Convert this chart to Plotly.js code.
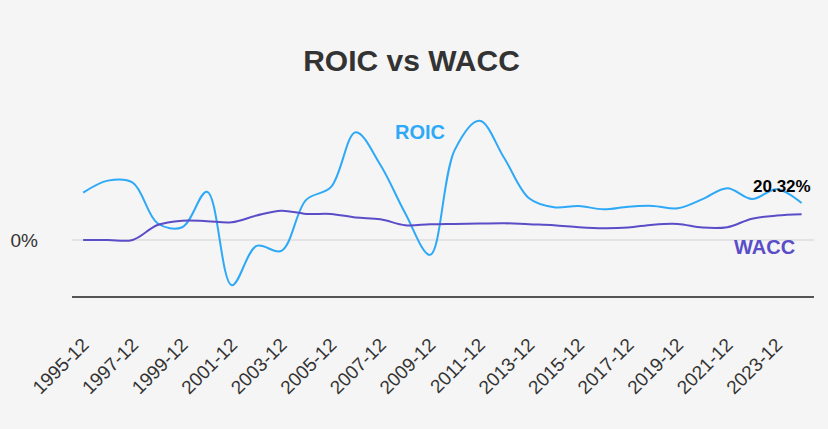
<!DOCTYPE html>
<html>
<head>
<meta charset="utf-8">
<script src="https://cdn.plot.ly/plotly-3.0.1.min.js"></script>
<style>
  html, body { margin: 0; padding: 0; background: #f5f5f5; }
  #chart { width: 828px; height: 429px; }
</style>
</head>
<body>
<div id="chart"></div>
<script>
// period labels, one per fiscal year end
const periods = [
  '1995-12','1996-12','1997-12','1998-12','1999-12','2000-12','2001-12','2002-12',
  '2003-12','2004-12','2005-12','2006-12','2007-12','2008-12','2009-12','2010-12',
  '2011-12','2012-12','2013-12','2014-12','2015-12','2016-12','2017-12','2018-12',
  '2019-12','2020-12','2021-12','2022-12','2023-12','2024-12'
];

// ROIC, %
const roic = [
  26.0, 32.6, 31.5, 9.2, 7.0, 26.5, -24.9, -3.3, -6.0, 22.0,
  29.0, 59.2, 41.2, 14.7, -8.2, 49.5, 65.5, 44.9, 22.9, 18.0,
  18.7, 16.8, 18.3, 18.7, 17.4, 22.4, 28.4, 22.5, 27.9, 20.32
];

// WACC, %
const wacc = [
  0, 0, 0, 8.2, 10.6, 10.3, 9.7, 13.4, 16.1, 14.3,
  14.3, 12.3, 11.4, 8.1, 8.6, 8.8, 9.0, 9.2, 8.6, 8.1,
  7.0, 6.4, 6.8, 8.4, 8.8, 6.8, 7.0, 11.7, 13.4, 14.1
];

// every second period gets a tick label
const tickPeriods = periods.filter((p, i) => i % 2 === 0 && i < periods.length - 1);

const roicColor = '#2ea9f7';
const waccColor = '#5a4dc8';
const font = 'Liberation Sans, Arial, sans-serif';

const data = [
  {
    x: periods, y: roic, name: 'ROIC', mode: 'lines',
    line: { color: roicColor, width: 2, shape: 'spline', smoothing: 1 },
    hoverinfo: 'skip'
  },
  {
    x: periods, y: wacc, name: 'WACC', mode: 'lines',
    line: { color: waccColor, width: 2, shape: 'spline', smoothing: 1 },
    hoverinfo: 'skip'
  }
];

const last = periods.length - 1;

const layout = {
  width: 828,
  height: 429,
  paper_bgcolor: '#f5f5f5',
  plot_bgcolor: '#f5f5f5',
  margin: { t: 100, l: 72, r: 14, b: 133 },
  showlegend: false,
  title: {
    text: '<b>ROIC vs WACC</b>',
    font: { family: font, size: 30, color: '#333333' },
    x: 0.497, xanchor: 'center',
    y: 0.86, yanchor: 'middle'
  },
  xaxis: {
    type: 'category',
    range: [-0.45, 29.5],
    tickmode: 'array',
    tickvals: tickPeriods,
    ticktext: tickPeriods,
    tickangle: -45,
    tickfont: { family: font, size: 19, color: '#333333' },
    ticklabelstandoff: 28,
    showgrid: false,
    zeroline: false,
    showline: true,
    linecolor: '#555555',
    linewidth: 2,
    ticks: ''
  },
  yaxis: {
    range: [-30.8, 76.9],
    tickmode: 'array',
    tickvals: [0],
    ticktext: ['0%'],
    tickfont: { family: font, size: 19, color: '#333333' },
    ticklabelstandoff: 33,
    showgrid: true,
    gridcolor: '#e3e3e3',
    gridwidth: 2,
    zeroline: false,
    showline: false,
    ticks: ''
  },
  annotations: [
    {
      x: 13.6, y: 59.5, xref: 'x', yref: 'y',
      text: '<b>ROIC</b>', showarrow: false,
      font: { family: font, size: 20, color: roicColor }
    },
    {
      x: 27.5, y: -4, xref: 'x', yref: 'y',
      text: '<b>WACC</b>', showarrow: false,
      font: { family: font, size: 20, color: waccColor }
    },
    {
      x: periods[last], y: roic[last], xref: 'x', yref: 'y',
      text: '<b>' + roic[last].toFixed(2) + '%</b>', showarrow: false,
      xshift: -20, yshift: 16,
      font: { family: font, size: 17, color: '#000000' }
    }
  ]
};

Plotly.newPlot('chart', data, layout, { displayModeBar: false, staticPlot: true });
</script>
</body>
</html>
